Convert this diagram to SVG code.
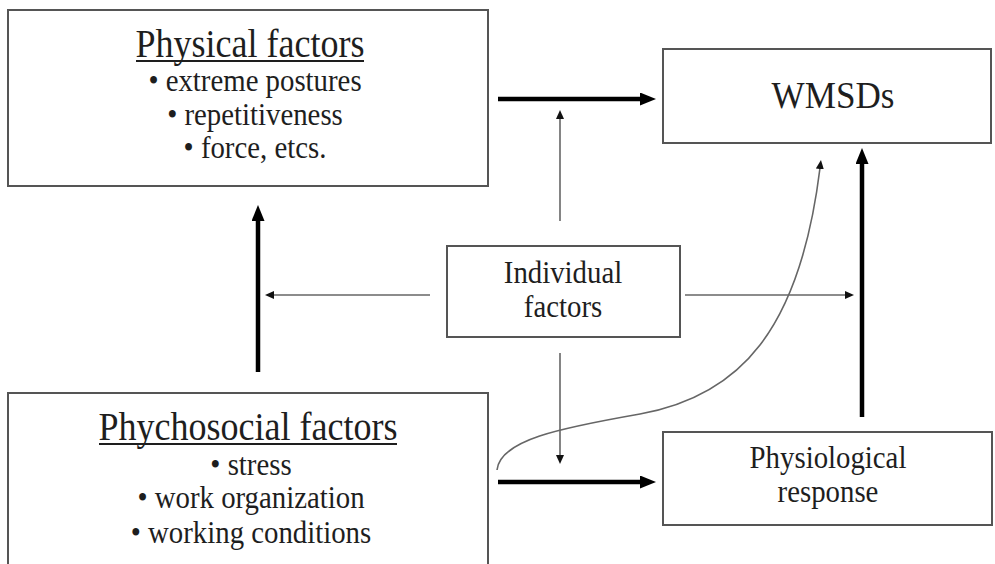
<svg xmlns="http://www.w3.org/2000/svg" width="995" height="564" viewBox="0 0 995 564">
<defs>
<style>
.box{fill:#fff;stroke:#555;stroke-width:2}
.t{font-family:"Liberation Serif","Times New Roman",serif;fill:#1e1e1e;text-anchor:middle}
.title{font-size:40px}
.b{font-size:32px}
.thick{stroke:#000;stroke-width:4.5;fill:none}
.thin{stroke:#666;stroke-width:1.6;fill:none}
.ul{stroke:#1e1e1e;stroke-width:2}
</style>
<marker id="ah" viewBox="0 0 16 13" refX="3" refY="6.5" markerWidth="16" markerHeight="13" markerUnits="userSpaceOnUse" orient="auto">
<path d="M0,0 L16,6.5 L0,13 z" fill="#000"/>
</marker>
<marker id="as" viewBox="0 0 9 8" refX="1" refY="4" markerWidth="9" markerHeight="8" markerUnits="userSpaceOnUse" orient="auto">
<path d="M0,0 L9,4 L0,8 z" fill="#111"/>
</marker>
</defs>
<rect width="995" height="564" fill="#fff"/>
<g id="physical">
<rect class="box" x="8" y="10" width="480" height="176"/>
<text class="t title" transform="translate(250,57) scale(0.9,1)">Physical factors</text>
<line class="ul" x1="136" y1="61" x2="364" y2="61"/>
<text class="t b" transform="translate(255,91) scale(0.9,1)">• extreme postures</text>
<text class="t b" transform="translate(255,125) scale(0.9,1)">• repetitiveness</text>
<text class="t b" transform="translate(255,158) scale(0.9,1)">• force, etcs.</text>
</g>
<g id="wmsds">
<rect class="box" x="663" y="49" width="328" height="94"/>
<text class="t" style="font-size:39px" transform="translate(833,108) scale(0.9,1)">WMSDs</text>
</g>
<g id="individual">
<rect class="box" x="447" y="246" width="233" height="91"/>
<text class="t b" transform="translate(563,283) scale(0.9,1)">Individual</text>
<text class="t b" transform="translate(563,317) scale(0.9,1)">factors</text>
</g>
<g id="psychosocial">
<rect class="box" x="8" y="393" width="480" height="180"/>
<text class="t title" transform="translate(248,440) scale(0.9,1)">Phychosocial factors</text>
<line class="ul" x1="99" y1="444" x2="397" y2="444"/>
<text class="t b" transform="translate(251,475) scale(0.9,1)">• stress</text>
<text class="t b" transform="translate(251,508) scale(0.9,1)">• work organization</text>
<text class="t b" transform="translate(251,543) scale(0.9,1)">• working conditions</text>
</g>
<g id="physiological">
<rect class="box" x="663" y="432" width="329" height="93"/>
<text class="t b" transform="translate(828,468) scale(0.9,1)">Physiological</text>
<text class="t b" transform="translate(828,502) scale(0.9,1)">response</text>
</g>
<g id="connectors">
<line class="thick" x1="498" y1="99" x2="643" y2="99" marker-end="url(#ah)"/>
<line class="thick" x1="498" y1="482" x2="643" y2="482" marker-end="url(#ah)"/>
<line class="thick" x1="258" y1="372" x2="258" y2="218" marker-end="url(#ah)"/>
<line class="thick" x1="862" y1="417" x2="862" y2="161" marker-end="url(#ah)"/>
<line class="thin" x1="560" y1="221" x2="560" y2="118" marker-end="url(#as)"/>
<line class="thin" x1="430" y1="295" x2="273" y2="295" marker-end="url(#as)"/>
<line class="thin" x1="685" y1="295" x2="846" y2="295" marker-end="url(#as)"/>
<line class="thin" x1="560" y1="353" x2="560" y2="456" marker-end="url(#as)"/>
<path class="thin" d="M497,470 C500,440 560,428 640,414 C740,396 800,330 820,168" marker-end="url(#as)"/>
</g>
</svg>
